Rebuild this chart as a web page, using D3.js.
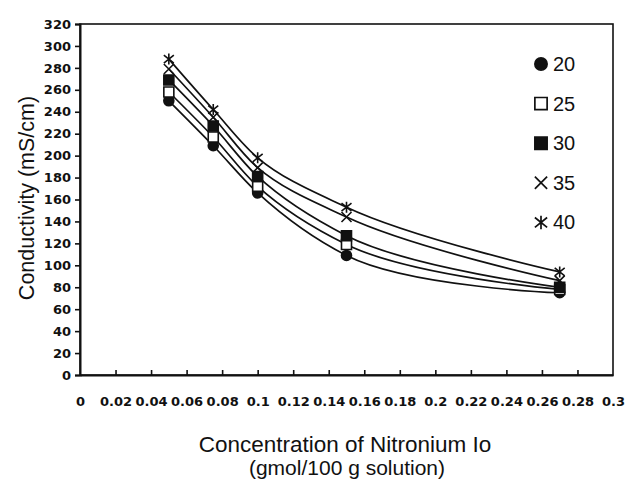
<!DOCTYPE html>
<html>
<head>
<meta charset="utf-8">
<script src="https://cdn.jsdelivr.net/npm/d3@7"></script>
<style>
  body { margin: 0; background: #fff; }
  svg { display: block; }
</style>
</head>
<body>
<script>
// concentration values (gmol/100 g solution)
var concentration = [0.05, 0.075, 0.1, 0.15, 0.27];

// conductivity (mS/cm) per temperature
var temps = ["20", "25", "30", "35", "40"];
var cond20 = [250, 209, 166, 109, 75];
var cond25 = [258, 217, 172, 119, 78];
var cond30 = [269, 227, 181, 127, 80];
var cond35 = [279, 235, 189, 144, 86];
var cond40 = [288, 242, 198, 153, 94];

var xTickLabels = ["0", "0.02", "0.04", "0.06", "0.08", "0.1", "0.12", "0.14",
    "0.16", "0.18", "0.2", "0.22", "0.24", "0.26", "0.28", "0.3"];
var yTickLabels = ["0", "20", "40", "60", "80", "100", "120", "140", "160",
    "180", "200", "220", "240", "260", "280", "300", "320"];

var width = 626;
var height = 479;

var svg = d3.select("body").append("svg")
    .attr("width", width)
    .attr("height", height);

var x = d3.scaleLinear().domain([0, 0.3]).range([80, 613]);
var y = d3.scaleLinear().domain([0, 320]).range([375, 24]);

// custom marker shapes
var crossSym = {
    draw: function(ctx, size) {
        var r = Math.sqrt(size) / 2;
        ctx.moveTo(-r, -r); ctx.lineTo(r, r);
        ctx.moveTo(-r, r); ctx.lineTo(r, -r);
    }
};
var starSym = {
    draw: function(ctx, size) {
        var r = Math.sqrt(size) / 2;
        ctx.moveTo(-r, -r * 0.8); ctx.lineTo(r, r * 0.8);
        ctx.moveTo(-r, r * 0.8); ctx.lineTo(r, -r * 0.8);
        ctx.moveTo(0, -r * 1.1); ctx.lineTo(0, r * 1.1);
    }
};
var squareSym = {
    draw: function(ctx, size) {
        var r = Math.sqrt(size) / 2;
        ctx.rect(-r, -r, 2 * r, 2 * r);
    }
};
var circleSym = {
    draw: function(ctx, size) {
        var r = Math.sqrt(size) / 2;
        ctx.moveTo(r, 0);
        ctx.arc(0, 0, r, 0, 2 * Math.PI);
    }
};

var seriesStyle = {
    "20": { sym: circleSym, fill: "#111", stroke: "#111" },
    "25": { sym: squareSym, fill: "#fff", stroke: "#111" },
    "30": { sym: squareSym, fill: "#111", stroke: "#111" },
    "35": { sym: crossSym, fill: "none", stroke: "#111" },
    "40": { sym: starSym, fill: "none", stroke: "#111" }
};

var series = [cond20, cond25, cond30, cond35, cond40].map(function(vals, i) {
    return {
        name: temps[i],
        points: concentration.map(function(c, j) { return { x: c, y: vals[j] }; })
    };
});

// frame
var g = svg.append("g");
g.append("rect")
    .attr("x", x(0)).attr("y", y(320))
    .attr("width", x(0.3) - x(0)).attr("height", y(0) - y(320))
    .attr("fill", "none").attr("stroke", "#111").attr("stroke-width", 1.6);

// axes
var yAxis = d3.axisLeft(y)
    .tickValues(yTickLabels.map(Number))
    .tickFormat(function(d, i) { return yTickLabels[i]; })
    .tickSize(5).tickPadding(4);
var yg = g.append("g").attr("transform", "translate(" + x(0) + ",0)").call(yAxis);

var xAxis = d3.axisBottom(x)
    .tickValues(xTickLabels.map(Number))
    .tickFormat(function(d, i) { return xTickLabels[i]; })
    .tickSizeInner(-5).tickSizeOuter(0).tickPadding(22);
var xg = g.append("g").attr("transform", "translate(0," + y(0) + ")").call(xAxis);

[yg, xg].forEach(function(a) {
    a.select(".domain").attr("stroke", "#111").attr("stroke-width", 2);
    a.selectAll(".tick line").attr("stroke", "#111").attr("stroke-width", 1.6);
    a.selectAll(".tick text")
        .attr("fill", "#111")
        .style("font-family", "'DejaVu Sans', sans-serif")
        .style("font-weight", "bold")
        .style("font-size", "13px");
});
xg.selectAll(".tick").filter(function(d) { return d === 0 || d === 0.3; }).select("line").remove();

// smoothed lines through the points
var line = d3.line()
    .x(function(d) { return x(d.x); })
    .y(function(d) { return y(d.y); })
    .curve(d3.curveCatmullRom.alpha(1));

series.forEach(function(s) {
    g.append("path")
        .datum(s.points)
        .attr("d", line)
        .attr("fill", "none")
        .attr("stroke", "#111")
        .attr("stroke-width", 1.7);
});

// markers
series.forEach(function(s) {
    var st = seriesStyle[s.name];
    g.selectAll(null)
        .data(s.points)
        .enter().append("path")
        .attr("transform", function(d) { return "translate(" + x(d.x) + "," + y(d.y) + ")"; })
        .attr("d", d3.symbol().type(st.sym).size(100))
        .attr("fill", st.fill)
        .attr("stroke", st.stroke)
        .attr("stroke-width", 1.6);
});

// legend
var legend = svg.append("g").attr("transform", "translate(541,64)");
temps.forEach(function(t, i) {
    var st = seriesStyle[t];
    var row = legend.append("g").attr("transform", "translate(0," + (i * 39.6) + ")");
    row.append("path")
        .attr("d", d3.symbol().type(st.sym).size(150))
        .attr("fill", st.fill)
        .attr("stroke", st.stroke)
        .attr("stroke-width", 1.7);
    row.append("text")
        .attr("x", 12)
        .attr("y", 7)
        .style("font-family", "'Liberation Sans', Arial, sans-serif")
        .style("font-size", "20px")
        .attr("fill", "#111")
        .text(t);
});

// axis titles
svg.append("text")
    .attr("transform", "translate(34,198) rotate(-90)")
    .attr("text-anchor", "middle")
    .style("font-family", "'Liberation Sans', Arial, sans-serif")
    .style("font-size", "21.5px")
    .attr("fill", "#111")
    .text("Conductivity (mS/cm)");

svg.append("text")
    .attr("x", 345)
    .attr("y", 452)
    .attr("text-anchor", "middle")
    .style("font-family", "'Liberation Sans', Arial, sans-serif")
    .style("font-size", "22.5px")
    .attr("fill", "#111")
    .text("Concentration of Nitronium Io");

svg.append("text")
    .attr("x", 347)
    .attr("y", 475)
    .attr("text-anchor", "middle")
    .style("font-family", "'Liberation Sans', Arial, sans-serif")
    .style("font-size", "21px")
    .attr("fill", "#111")
    .text("(gmol/100 g solution)");
</script>
</body>
</html>
